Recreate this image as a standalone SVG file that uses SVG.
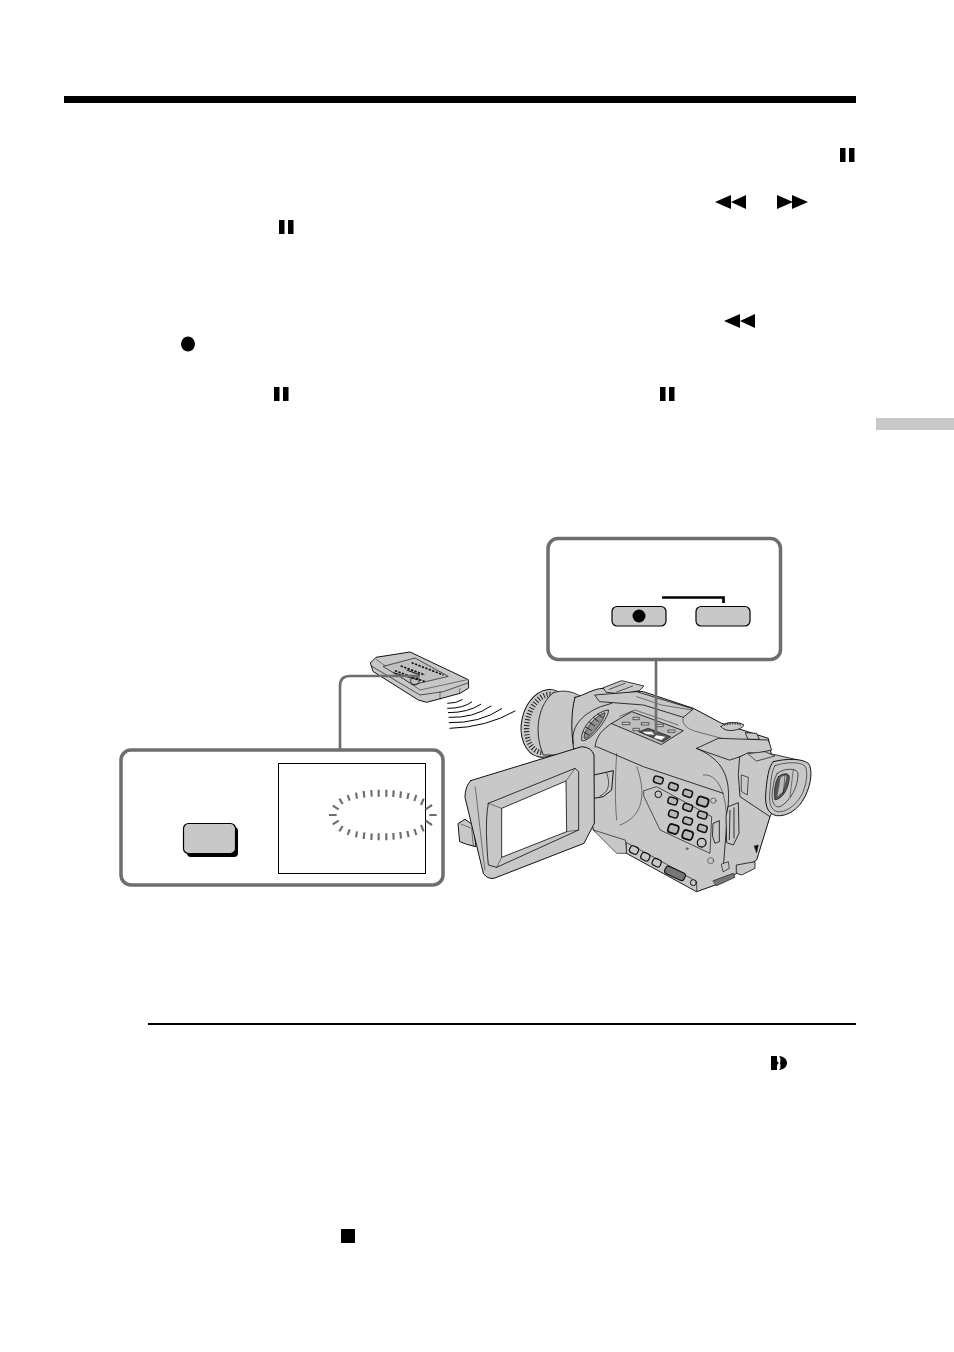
<svg xmlns="http://www.w3.org/2000/svg" width="954" height="1352" viewBox="0 0 954 1352">
<style>
.ln{stroke:#111;stroke-linejoin:round;stroke-linecap:round}
.g{fill:#c8c8c8}
.nf{fill:none}
.box{fill:#fff;stroke:#6e6e6e;stroke-width:3.5}
.btn{fill:#c8c8c8;stroke:#000;stroke-width:1.2}
.conn{fill:none;stroke:#6e6e6e;stroke-width:2.6}
.d{stroke:#6e6e6e;stroke-width:6.500;stroke-linecap:butt;fill:none}
</style>
<defs>
<g id="pause"><rect x="0" y="0" width="5.500" height="14"/><rect x="9" y="0" width="5.500" height="14"/></g>
<g id="rew"><path d="M0 7L16 0V14ZM16 7L31 0V14Z"/></g>
<g id="ffw"><path d="M0 0L16 7L0 14ZM15 0L31 7L15 14Z"/></g>
<rect id="cb" x="-14" y="-10" width="28" height="20" rx="7" class="ln" fill="#b8b8b8" stroke-width="4.500"/>
</defs>
<rect width="954" height="1352" fill="#fff"/>
<g id="page-marks">
<rect x="64" y="96" width="792" height="7"/>
<rect x="876" y="418" width="78" height="12" fill="#c8c8c8"/>
<rect x="148" y="1023" width="708" height="2"/>
<use href="#pause" x="840" y="148"/>
<use href="#rew" x="715" y="195"/>
<use href="#ffw" x="777" y="195"/>
<use href="#pause" x="279" y="220"/>
<use href="#rew" x="724" y="314"/>
<ellipse cx="188" cy="344" rx="7" ry="7.500"/>
<use href="#pause" x="274" y="387"/>
<use href="#pause" x="660" y="387"/>
<path d="M771 1056h6v4c0 1.500 1 2.500 2 3c-1 .5-2 1.500-2 3v4h-6ZM779 1056c5 .5 8 3.300 8 7s-3 6.500-8 7c1.500-1.500 2-3.500 1-7c1-3.500 .5-5.500-1-7Z"/>
<rect x="341" y="1229" width="14" height="14"/>
</g>
<g id="camera" transform="translate(440 660) scale(.33333)">
<ellipse cx="318" cy="190" rx="73" ry="103" transform="rotate(13 318 190)" class="ln g" stroke-width="3"/>
<ellipse cx="318" cy="190" rx="56" ry="88" transform="rotate(13 318 190)" fill="none" stroke="#222" stroke-width="16" stroke-dasharray="3 6"/>
<path class="ln g" stroke-width="2.500" d="M340 98C298 130 278 210 310 285L480 285L480 100L420 108C400 95 370 88 340 98Z"/>
<path class="ln g" stroke-width="3" d="M405 112C430 108 460 85 490 85L610 95L760 145L845 190L985 235L995 290L990 470L950 600L890 640L840 670L770 695L560 580L460 510L400 260C392 200 395 150 405 112Z"/>
<path class="ln nf" stroke-width="2.500" d="M400 250C392 205 420 165 482 140L515 130M465 262C468 225 490 208 515 190"/>
<path class="ln g" stroke-width="2.500" d="M490 83L545 62L612 78L598 92L545 102L500 97Z"/>
<path class="ln nf" stroke-width="2" d="M508 88L555 70M530 96L578 78"/>
<path class="ln g" stroke-width="2.500" d="M465 105L590 95L760 147L730 172L610 135L480 125Z"/>
<path class="ln nf" stroke-width="1.500" d="M590 110L665 135L755 150"/>
<path class="ln" fill="#bdbdbd" stroke-width="2.500" d="M515 190L575 155L730 212L665 253Z"/>
<path class="ln nf" stroke-width="1.500" d="M540 168L585 150L715 195"/>
<path class="ln" fill="#ccc" stroke-width="1.800" d="M548 187h22v7h-22ZM580 172h18v7h-18ZM605 188h22v7h-22ZM650 193h20v7h-20ZM685 210h20v7h-20ZM580 205h18v7h-18Z"/>
<path fill="#555" stroke="#111" stroke-width="2" d="M596 215L625 205L692 230L668 246Z"/>
<path fill="#fff" d="M607 215L636 215L643 224L620 223ZM648 226L676 230L664 240L642 234Z"/>
<path class="ln g" stroke-width="2.500" d="M425 240C420 205 465 155 505 150C510 165 462 235 432 242Z"/>
<path class="ln" fill="#8d8d8d" stroke-width="2" d="M432 233C432 205 470 165 495 158C498 172 460 225 437 236Z"/>
<path stroke="#111" stroke-width="2.500" d="M430 215L448 226M436 200L455 212M447 186L465 198M460 172L476 185M473 162L488 173"/>
<path class="ln g" stroke-width="2.500" d="M843 200C850 186 895 183 912 195C905 212 855 220 843 200Z"/>
<path fill="none" stroke="#222" stroke-width="8" stroke-dasharray="2 3" d="M852 195C865 188 890 188 903 194"/>
<path class="ln g" stroke-width="2.500" d="M917 218L950 220L958 238L925 238Z"/>
<path class="ln g" stroke-width="2.500" d="M770 265L835 235L985 240L995 270L900 290L870 300Z"/>
<path class="ln nf" stroke-width="1.500" d="M730 172C725 190 735 205 770 215L845 235M590 320C620 400 610 470 540 495M530 280C525 360 525 430 530 480M790 345C830 340 865 390 860 520"/>
<path class="ln nf" stroke-width="2.500" d="M770 265C850 300 870 350 865 430L850 620M470 260L610 320L850 400"/>
<path class="ln g" stroke-width="2.500" d="M900 290L925 278L1000 283L1075 300L990 470L900 410L895 345Z"/>
<path class="ln g" stroke-width="2" d="M925 281L975 275L1005 288L950 303Z"/>
<path class="ln nf" stroke-width="2" d="M905 345L925 352L922 405L905 395Z"/>
<path class="ln g" stroke-width="3" d="M1000 305C1040 295 1085 295 1105 310C1118 325 1115 370 1095 410C1075 450 1040 470 1010 467C985 462 975 440 977 405C980 360 985 320 1000 305Z"/>
<path class="ln nf" stroke-width="1.800" d="M1005 317C1040 305 1080 305 1095 318C1105 335 1100 375 1085 405C1065 440 1035 458 1012 455C993 450 987 430 989 405C992 365 995 330 1005 317Z"/>
<path class="ln g" stroke-width="2" d="M1012 340C1030 325 1070 322 1074 340C1075 380 1050 425 1020 440C1000 445 994 420 997 395C1000 370 1005 350 1012 340Z"/>
<path class="ln" fill="#555" stroke-width="2" d="M1015 350C1030 338 1048 338 1048 352C1046 385 1030 415 1005 420C1000 400 1005 365 1015 350Z"/>
<path fill="#bbb" d="M1022 352L1036 345L1040 352L1028 395L1012 410Z"/>
<path class="ln nf" stroke-width="1.500" d="M1035 345L1030 400M1060 328L1050 410"/>
<path class="ln g" stroke-width="2.500" d="M865 440L895 428L897 520L880 555L860 548L858 470Z"/>
<path stroke="#111" stroke-width="2.500" d="M870 450L868 540M882 442L882 535"/>
<path class="ln g" stroke-width="2.500" d="M820 490L838 482L838 545L825 550L818 530Z"/>
<path class="ln g" stroke-width="2.500" d="M890 615L945 605L945 625L905 645L890 640Z"/>
<path class="ln" fill="#777" stroke-width="2" d="M820 662L880 640L885 652L830 677Z"/>
<path class="ln g" stroke-width="2" d="M845 612L865 605L868 625L850 635Z"/>
<path class="ln" stroke-width="1.500" d="M943 558L955 555L950 578Z"/>
<path class="ln g" stroke-width="2" d="M555 540L460 510L530 580L560 580Z"/>
<path class="ln nf" stroke-width="2" d="M612 392L650 380L815 470L810 580L660 510L612 410Z"/>
<use href="#cb" transform="translate(655 360) rotate(18)"/>
<use href="#cb" transform="translate(700 380) rotate(18)"/>
<use href="#cb" transform="translate(743 400) rotate(18)"/>
<use href="#cb" transform="translate(788 425) rotate(18) scale(1.200 1.300)"/>
<use href="#cb" transform="translate(698 423) rotate(18)"/>
<use href="#cb" transform="translate(743 442) rotate(18)"/>
<use href="#cb" transform="translate(787 465) rotate(18)"/>
<use href="#cb" transform="translate(700 462) rotate(18)"/>
<use href="#cb" transform="translate(743 483) rotate(18)"/>
<use href="#cb" transform="translate(787 505) rotate(18)"/>
<use href="#cb" transform="translate(700 507) rotate(18) scale(1.100 1.300)"/>
<use href="#cb" transform="translate(743 525) rotate(18) scale(1.100 1.300)"/>
<circle cx="785" cy="548" r="13" class="ln g" stroke-width="4"/>
<circle cx="655" cy="403" r="10" class="ln g" stroke-width="3"/>
<circle cx="820" cy="422" r="8" class="ln g" stroke-width="1.500"/>
<circle cx="812" cy="602" r="9" class="ln g" stroke-width="1.500"/>
<circle cx="741" cy="566" r="3" class="ln g" stroke-width="1.500"/>
<path class="ln g" stroke-width="2" d="M560 548L675 610L770 665L770 695L560 580Z"/>
<rect x="-13" y="-11" width="26" height="22" rx="8" class="ln g" stroke-width="3.500" transform="translate(582 570) rotate(25)"/>
<rect x="-13" y="-11" width="26" height="22" rx="8" class="ln g" stroke-width="3.500" transform="translate(616 590) rotate(25)"/>
<rect x="-13" y="-11" width="26" height="22" rx="8" class="ln g" stroke-width="3.500" transform="translate(650 608) rotate(25)"/>
<rect x="-32" y="-12" width="64" height="24" rx="9" fill="#777" class="ln" stroke-width="3.500" transform="translate(705 640) rotate(25)"/>
<circle cx="760" cy="668" r="9" class="ln g" stroke-width="3"/>
<path class="ln g" stroke-width="3" d="M462 345L520 332L515 390L490 410L462 415Z"/>
<path class="ln nf" stroke-width="2" d="M500 340C510 365 510 395 480 408"/>
<path class="ln g" stroke-width="3" d="M55 490L75 478L100 495L108 560L80 553L60 545Z"/>
<path class="ln nf" stroke-width="1.500" d="M62 492L95 505L100 558"/>
<path class="ln g" stroke-width="3" d="M92 362L425 260Q455 262 462 285L463 490L432 550L162 655Q142 658 130 640L75 412Q75 380 92 362Z"/>
<path class="ln nf" stroke-width="1.500" d="M105 380C110 400 120 520 135 630"/>
<path class="ln g" stroke-width="2.500" d="M145 430L405 325L416 335L416 510L170 622L145 615C140 560 135 480 145 430Z"/>
<path fill="#fff" stroke="#111" stroke-width="2.500" d="M185 445L378 363L380 515L185 592Z"/>
<path class="ln nf" stroke-width="1.500" d="M145 430L185 445M405 325L378 363M416 510L380 515M170 622L185 592"/>
</g>
<g id="remote" transform="translate(110 640) scale(.33333)">
<path class="ln g" stroke-width="3" d="M782 68L798 52L900 36L1075 119L1076 144L1050 160L950 187L925 180L790 95Z"/>
<path class="ln nf" stroke-width="2" d="M784 78L930 165L1000 155L1076 128"/>
<path class="ln nf" stroke-width="1.500" d="M798 58L930 150L1068 120M990 155L990 178M1050 145L1048 158"/>
<path class="ln" fill="#c0c0c0" stroke-width="2" d="M820 79L915 54L1015 109L910 134Z"/>
<path fill="none" stroke="#111" stroke-width="5" stroke-dasharray="7 4" d="M905 68L1000 105M872 78L945 105M855 92L945 125"/>
<path stroke="#111" stroke-width="3" d="M890 90L930 105M850 98L925 120"/>
<circle cx="915" cy="122" r="13" fill="none" stroke="#111" stroke-width="2.500"/>
</g>
<g id="connectors">
<path class="conn" d="M656 660V733"/>
<path class="conn" d="M340 750V686Q340 676 350 676H420"/>
</g>
<g id="waves" transform="translate(110 640) scale(.33333)" fill="none" stroke="#000" stroke-width="3" stroke-linecap="round">
<path d="M1013 190Q1040 190 1057 179"/>
<path d="M1013 205Q1060 205 1085 186"/>
<path d="M1015 218Q1075 218 1112 193"/>
<path d="M1017 232Q1090 235 1143 198"/>
<path d="M1018 248Q1110 250 1175 206"/>
<path d="M1020 265Q1130 262 1215 213"/>
</g>
<g id="callout-top">
<rect x="548" y="538.500" width="232.500" height="121" rx="10" class="box"/>
<path fill="none" stroke="#000" stroke-width="2.700" d="M662 597.500H723.500V603"/>
<rect id="rec-button" x="612" y="606.500" width="54" height="19.500" rx="5" class="btn"/>
<circle cx="639" cy="616" r="6.500"/>
<rect id="second-button" x="696" y="606.500" width="54" height="19.500" rx="5" class="btn"/>
</g>
<g id="callout-bottom">
<rect x="121" y="750" width="322" height="135" rx="10" class="box"/>
<rect x="187" y="827" width="51" height="30" rx="4" fill="#000"/>
<rect id="remote-button" x="183.500" y="823.500" width="52" height="30" rx="5" class="btn"/>
<rect id="screen" x="278.500" y="763.500" width="147" height="110" fill="#fff" stroke="#000" stroke-width="1"/>
<g id="flash" transform="translate(110 640) scale(.33333)" class="d">
<path d="M657 525H680M958 525H980"/>
<path d="M668 497L686 508M688 476L698 492M713 465L719 482M738 458L741 476M761 453L763 473M784 450L785 470M806 449L806 470M829 449L829 470M851 451L850 471M873 454L871 474M896 459L892 477M919 465L913 483M941 476L933 495M966 495L947 508"/>
<path d="M668 553L686 542M688 574L698 558M713 585L719 568M738 592L741 574M761 597L763 577M784 600L785 580M806 601L806 580M829 601L829 580M851 599L850 579M873 596L871 576M896 591L892 573M919 585L913 567M941 574L933 555M966 555L947 542"/>
</g>
</g>
</svg>
